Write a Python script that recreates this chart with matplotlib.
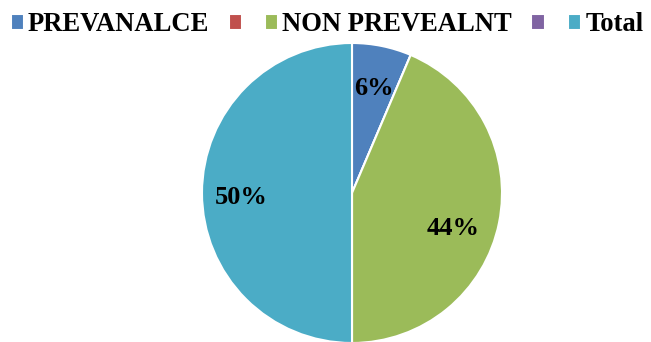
import matplotlib
matplotlib.use('Agg')
import matplotlib.pyplot as plt

# data
labels = ['PREVANALCE', '', 'NON PREVEALNT', '', 'Total']
values = [6.4, 0, 43.6, 0, 50]
colors = ['#4F81BD', '#C0504D', '#9BBB59', '#8064A2', '#4BACC6']

plt.rcParams['font.family'] = ['Liberation Serif', 'DejaVu Serif']

fig = plt.figure(figsize=(6.51, 3.42), dpi=100)
# pie centre at (352, 193) px, radius 150 px
ax = fig.add_axes([(352 - 150) / 651, (342 - 193 - 150) / 342, 300 / 651, 300 / 342])


def fmt(pct):
    return f'{pct:.0f}%' if pct >= 1 else ''


wedges, texts, autotexts = ax.pie(values, colors=colors, startangle=90, counterclock=False,
                                  autopct=fmt, pctdistance=0.74, radius=1,
                                  wedgeprops=dict(edgecolor='white', linewidth=1.5),
                                  textprops=dict(fontsize=19, fontweight='bold', color='black'))
for w in wedges:
    w.set_clip_on(False)

# nudge the labels a little lower, like the original
for t in autotexts:
    x, y = t.get_position()
    if t.get_text() == '44%':
        t.set_position((x - 0.05, y - 0.09))
    else:
        t.set_position((x, y - 0.03))

ax.set_xlim(-1, 1)
ax.set_ylim(-1, 1)
ax.set_aspect('equal')

fig.legend(wedges, labels, loc='upper left', bbox_to_anchor=(0.0, 0.995), ncol=5,
           frameon=False, prop=dict(size=19.2, weight='bold'),
           handlelength=0.5, handleheight=0.5, handletextpad=0.15,
           columnspacing=0.72, borderaxespad=0.0)

fig.savefig('out.png', dpi=100)
